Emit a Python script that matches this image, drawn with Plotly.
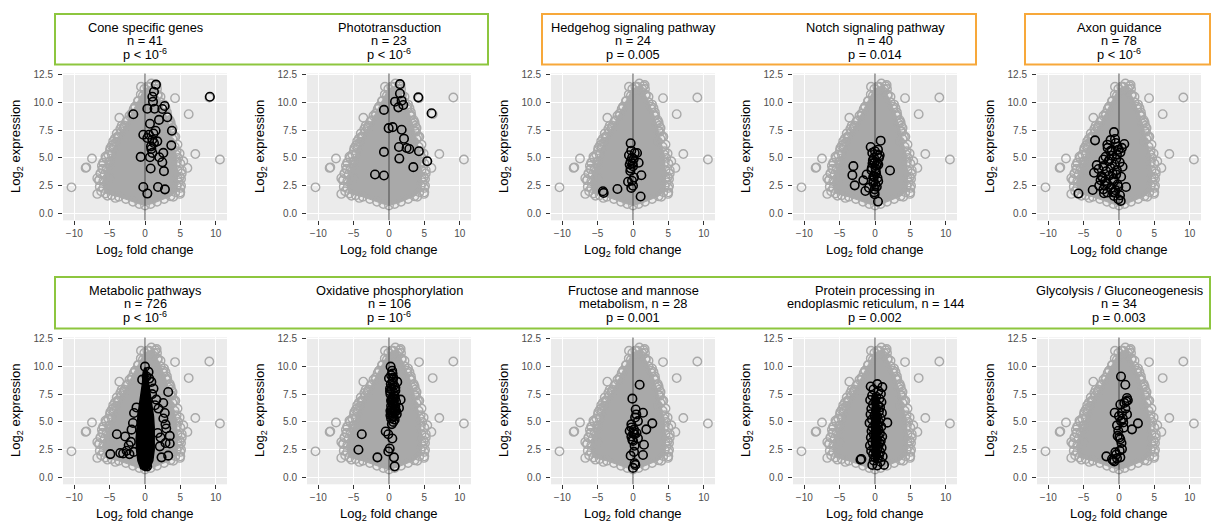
import plotly.graph_objects as go

# ---------------------------------------------------------------------------
# Figure geometry (pixels)
# ---------------------------------------------------------------------------
W, H = 1212, 527
COL_LEFT = [63, 307, 551, 793, 1037]
PANEL_W = 164
ROW_TOP = [70, 336]
PANEL_H = 148
X_RANGE = [-11.6, 11.6]
Y_RANGE = [-0.62, 12.6]

FONT = "Liberation Sans, Arial, Helvetica, sans-serif"
GRAY = "#A9A9A9"
BLACK = "#000000"
GREEN = "#8DC63F"
ORANGE = "#F7A83A"

X_TICKS = [-10, -5, 0, 5, 10]
Y_TICKS = [0.0, 2.5, 5.0, 7.5, 10.0, 12.5]

# ---------------------------------------------------------------------------
# All genes (grey): dense cloud outline and scattered genes around it
# ---------------------------------------------------------------------------
CLOUD_EDGE_X = [-5.6, -5.9, -5.9, -5.7, -5.4, -5.0, -4.7, -4.4, -4.1, -3.7,
                -3.3, -2.9, -2.4, -1.9, -1.4, -1.0, -0.6, -0.1, 0.6, 1.3,
                1.8, 2.2, 2.6, 3.0, 3.3, 3.6, 3.9, 4.2, 4.4, 4.5,
                4.6, 4.6, 4.5, 4.3, 3.6, 2.7, 1.7, 0.8, 0.0, -0.8,
                -1.7, -2.7, -3.7, -4.7]
CLOUD_EDGE_Y = [1.8, 2.3, 2.9, 3.5, 4.1, 4.7, 5.3, 5.9, 6.4, 6.9,
                7.4, 7.9, 8.4, 9.0, 9.6, 10.1, 10.7, 11.2, 11.4, 11.2,
                10.6, 10.0, 9.4, 8.8, 8.1, 7.4, 6.7, 6.0, 5.3, 4.6,
                3.9, 3.2, 2.5, 1.9, 1.55, 1.3, 1.05, 0.85, 0.72, 0.85,
                1.05, 1.3, 1.5, 1.65]

# genes just outside the dense cloud
HALO_X = [-5.9, -6.0, -6.3, -6.5, -6.4, -5.2, -4.9, -4.5, -4.0, -3.5,
          -2.6, -2.2, -1.6, 4.9, 5.0, 5.2, 5.1, 5.0, 4.6, 4.3,
          3.9, 3.5, 3.1, 2.7, 2.2, 1.7, -5.3, -4.2, 4.0, 5.0,
          -5.6, -4.7, -3.9, -3.0, 3.7, 4.8, 2.9, -6.2, -5.0, 0.9]
HALO_Y = [4.56, 4.0, 3.6, 3.0, 2.4, 5.3, 5.9, 6.5, 7.2, 7.6,
          8.3, 8.8, 9.4, 5.4, 4.5, 3.9, 3.1, 2.3, 6.2, 6.9,
          7.7, 8.4, 9.1, 9.8, 10.5, 11.2, 1.6, 1.4, 1.5, 1.9,
          5.1, 6.1, 6.9, 7.7, 7.9, 2.8, 9.5, 2.0, 4.4, 11.7]

OUTER_X = [-10.4, -7.5, -8.4, -8.3, -6.75, -6.75, -6.0, -5.9, -4.95, -4.25,
           -3.87, -3.63, -2.97, -1.9, -0.94, -0.57, 0.33, 1.65, 1.5, 1.8,
           4.25, 9.1, 6.18, 3.16, 3.63, 3.82, 3.54, 4.48, 5.42, 6.0,
           7.12, 10.6, 4.95, 4.95, -4.95, -6.3, -5.5, -4.5, -3.3, 2.6,
           3.4, 4.1, 4.7, 5.2, -1.4, -0.3, 1.1, -6.5, -6.1, 5.1]
OUTER_Y = [2.35, 4.94, 4.1, 4.15, 3.18, 1.76, 4.0, 4.56, 5.7, 6.75,
           6.76, 8.62, 7.74, 8.8, 10.15, 11.4, 11.4, 11.56, 11.45, 10.7,
           10.38, 10.44, 8.94, 8.82, 8.18, 7.35, 6.47, 5.6, 4.7, 4.1,
           5.35, 4.85, 3.3, 1.76, 3.2, 3.6, 5.0, 6.2, 7.9, 9.6,
           8.3, 6.9, 5.0, 3.6, 9.6, 10.6, 11.0, 3.0, 4.3, 2.5]

# ---------------------------------------------------------------------------
# Gene sets (black)
# ---------------------------------------------------------------------------
CONE_X = [1.55, 1.27, 1.04, 1.13, 9.18, -1.65, 0.33, 1.36, 2.78, 2.45,
          3.15, 1.98, 0.70, 3.81, 1.50, -0.24, 0.33, 0.56, 1.04, 1.27,
          1.74, 3.72, 0.85, 2.59, 1.04, 0.70, -0.61, 2.02, 2.45, 0.80,
          2.68, -0.24, 0.33, 1.84, 2.82, 1.20, 0.90]
CONE_Y = [11.60, 10.95, 10.50, 10.06, 10.50, 8.93, 9.43, 9.43, 9.67, 9.40,
          8.66, 8.42, 8.07, 7.44, 7.44, 7.08, 6.79, 7.08, 6.64, 6.34,
          6.49, 6.13, 6.04, 5.45, 5.45, 5.06, 5.09, 5.06, 4.61, 4.05,
          3.81, 2.38, 1.79, 2.38, 2.17, 7.20, 5.80]

PHOTO_X = [1.55, 1.55, 4.14, 0.85, 1.79, 2.02, 1.32, -0.71, 6.02, -0.05,
           0.52, 1.79, 2.12, 1.41, 2.49, 2.87, 4.23, -0.71, 5.41, 1.46,
           3.44, -1.98, -0.71]
PHOTO_Y = [11.64, 10.80, 10.45, 10.06, 10.15, 9.76, 9.55, 9.32, 9.02, 7.68,
           7.77, 7.53, 6.73, 5.98, 5.89, 5.80, 5.60, 5.54, 4.70, 4.94,
           4.17, 3.51, 3.42]

HEDGEHOG_X = [-0.33, -0.24, 0.24, 0.57, -0.57, -0.14, -0.33, 0.80, -0.47, 0.00,
              -0.33, -0.38, 1.18, -0.70, -0.14, 0.00, -0.24, -2.20, -4.25, -4.15,
              1.08, 0.14, 0.10, -0.05]
HEDGEHOG_Y = [6.32, 5.65, 5.44, 5.44, 5.24, 5.00, 4.70, 4.56, 4.41, 4.26,
              4.06, 3.82, 3.44, 2.85, 2.94, 2.50, 2.30, 2.20, 2.00, 1.85,
              1.53, 3.24, 4.90, 4.50]

NOTCH_X = [0.80, -0.61, 0.42, -0.38, 0.66, -0.14, 0.33, -3.06, 0.09, 0.47,
           2.12, -3.20, -1.18, -0.14, -1.65, -0.24, -2.87, -0.85, -0.05, -1.36,
           -0.05, 0.42, 0.00, -0.30, 0.20, -0.45, 0.10, 0.35, -0.20, 0.05,
           0.25, -0.10, 0.55, -0.50, 0.15, -0.35, 0.30, -0.05, 0.45, -0.25]
NOTCH_Y = [6.55, 5.98, 5.74, 5.45, 5.24, 5.00, 4.55, 4.26, 4.05, 4.40,
           3.87, 3.45, 3.51, 3.36, 2.98, 2.77, 2.53, 2.32, 2.17, 2.02,
           1.73, 1.07, 5.60, 4.80, 4.30, 4.10, 3.80, 3.20, 3.00, 2.60,
           2.40, 1.90, 5.00, 3.90, 3.60, 4.50, 5.30, 4.60, 2.90, 3.30]

AXON_X = [-0.71, -3.39, -0.56, -0.47, 0.75, -1.65, -0.09, -1.27, 0.40, -2.21,
          -0.30, -3.15, -2.21, -3.53, -2.45, -1.98, -0.80, -0.20, -3.72, -5.74,
          -2.12, -2.21, -1.65, 0.99, -0.71, 0.14, -0.09, 0.24, -1.00, -1.50,
          -0.40, 0.20, -1.20, -0.60, -1.80, -2.60, -0.90, -0.30, 0.10, -1.40,
          -2.00, -0.70, -1.10, -2.80, -0.50, 0.30, -1.60, -0.20, -2.30, -1.00,
          -0.40, -1.30, -0.80, 0.50, -2.90, -1.70, -0.10, -0.60, -1.90, -1.20]
AXON_Y = [7.32, 6.58, 6.70, 6.34, 6.25, 6.19, 5.74, 5.60, 5.90, 4.85,
          5.30, 4.35, 4.26, 3.66, 3.36, 2.92, 3.10, 2.60, 2.11, 1.79,
          1.82, 2.17, 1.88, 2.38, 1.58, 1.64, 1.28, 1.13, 5.20, 4.70,
          4.90, 5.50, 4.10, 4.40, 3.80, 3.00, 3.60, 3.90, 4.60, 3.40,
          2.50, 2.90, 2.30, 2.50, 2.10, 3.30, 5.90, 6.00, 3.20, 5.70,
          3.50, 4.90, 1.90, 4.20, 4.00, 2.70, 2.40, 1.90, 5.10, 6.60]

# metabolic pathways: solid black core plus genes outside it
METABOLIC_CORE_X = [0.0, 0.35, 0.5, 0.75, 1.0, 1.2, 1.3, 1.35, 1.3, 1.1,
                    0.6, 0.0, -0.6, -1.0, -1.2, -1.25, -1.15, -1.0, -0.8, -0.55,
                    -0.35, -0.25]
METABOLIC_CORE_Y = [9.9, 9.5, 8.5, 7.5, 6.5, 5.5, 4.5, 3.5, 2.5, 1.5,
                    0.8, 0.6, 0.8, 1.5, 2.5, 3.5, 4.5, 5.5, 6.5, 7.5,
                    8.5, 9.5]
METABOLIC_X = [0.0, 0.23, 0.6, 3.28, 2.58, 2.8, 2.6, 2.9, 3.0, -1.55,
               -1.7, 3.5, -3.98, -2.8, -4.9, -3.5, -3.1, -2.6, -2.2, 2.9,
               3.5, 3.28, 2.34, -1.6, 1.9, 2.2, -2.0, 1.6, 1.8, -1.9,
               1.2, 0.9, -0.4, 0.5, 1.0, 1.4, -1.2, 0.3, 2.1, -2.3]
METABOLIC_Y = [9.97, 9.08, 8.9, 7.69, 6.7, 5.8, 5.3, 4.78, 4.4, 5.8,
               4.9, 3.74, 3.89, 3.68, 2.1, 2.2, 2.15, 2.4, 2.1, 3.1,
               3.05, 1.96, 1.81, 2.3, 6.2, 3.6, 3.2, 7.0, 4.0, 4.3,
               8.0, 8.6, 8.8, 9.5, 7.5, 6.5, 6.3, 1.0, 2.8, 2.9]

OXPHOS_X = [0.23, 0.45, 0.0, 1.17, 0.7, 1.64, 1.41, 0.5, -0.47, -0.1,
            0.47, -3.85, -4.32, -1.64, -0.1, 0.1, 0.7, 0.8, 0.3, 0.6,
            0.9, 0.4, 0.7, 0.2, 0.5, 0.8, 1.0, 0.3, 0.6, 0.9,
            0.4, 0.2, 0.7, 1.1, 0.5, 0.3, 0.8, 0.6, 0.4, 1.0,
            0.2, 0.9, 0.5, 0.7, 0.35, 0.15, 0.55, 0.25, 0.85, 0.45,
            0.65, 0.35, 0.75, 0.15, 0.95, 0.5, 0.3, 0.6]
OXPHOS_Y = [9.97, 9.6, 8.93, 8.6, 8.3, 7.0, 6.26, 5.8, 4.13, 3.89,
            3.5, 3.89, 2.49, 1.81, 2.34, 2.6, 1.81, 1.0, 9.2, 9.0,
            8.1, 7.9, 7.6, 7.5, 7.2, 7.3, 6.8, 6.9, 6.6, 6.4,
            6.2, 6.0, 5.9, 5.7, 5.5, 5.3, 5.2, 5.0, 4.8, 6.0,
            5.6, 7.8, 8.5, 6.5, 7.0, 8.0, 8.8, 8.4, 7.1, 6.75,
            5.45, 5.85, 6.15, 7.75, 5.95, 9.35, 6.45, 7.05]

FRUCTOSE_X = [0.94, -0.09, 0.38, 1.41, 0.47, 0.70, 2.73, -0.23, 1.88, -0.47,
              0.14, 0.23, -0.23, 0.70, 0.00, 0.23, 1.55, -0.33, 1.41, 0.23,
              0.33, 0.00, 0.14, -0.20, 0.50, 0.05, 0.30, -0.10]
FRUCTOSE_Y = [8.34, 7.09, 6.11, 5.82, 5.67, 5.07, 4.87, 4.78, 4.33, 4.18,
              4.30, 3.89, 3.68, 3.53, 3.29, 2.85, 2.94, 1.96, 2.02, 1.28,
              1.13, 0.86, 2.30, 4.50, 4.00, 3.95, 5.40, 3.40]

# protein processing in ER: solid black column plus genes around it
PROTEIN_CORE_X = [-0.1, 0.3, 0.55, 0.65, 0.7, 0.7, 0.6, 0.3, -0.1, -0.4,
                  -0.5, -0.5, -0.45, -0.35]
PROTEIN_CORE_Y = [7.6, 7.4, 6.5, 5.5, 4.5, 3.5, 2.2, 1.5, 1.4, 2.2,
                  3.5, 4.5, 5.5, 6.8]
PROTEIN_X = [0.33, -0.61, 1.04, -0.22, 0.48, 0.83, -0.41, 0.18, 0.62, -0.68,
             0.03, 0.91, -0.29, 0.44, 0.71, -0.52, 0.12, 0.55, 0.97, -0.63,
             -0.08, 0.31, 0.79, -0.43, 0.21, 0.58, -0.77, 0.02, 0.39, 0.88,
             -0.33, 0.14, 1.74, 0.51, -0.49, 0.24, 0.69, -0.18, 0.42, 1.02,
             -0.58, 0.06, 0.28, 0.81, -0.37, 0.63, 0.09, -0.71, 0.47, 0.93,
             -0.12, 0.34, -0.54, 0.74, 0.19, -0.27, 0.57, 1.08, 0.01, -0.38,
             0.33, 1.27, 0.78, -0.19, -1.93, -2.05, 0.41]
PROTEIN_Y = [8.40, 8.19, 8.13, 7.92, 7.77, 7.53, 7.38, 7.26, 7.08, 6.97,
             6.88, 6.79, 6.57, 6.46, 6.31, 6.18, 6.07, 5.93, 5.81, 5.69,
             5.58, 5.47, 5.33, 5.21, 5.09, 4.98, 4.91, 4.82, 4.68, 4.57,
             4.49, 4.37, 4.93, 4.29, 4.18, 4.07, 3.96, 3.88, 3.77, 3.68,
             3.59, 3.47, 3.38, 3.27, 3.18, 3.09, 2.98, 2.87, 2.79, 2.68,
             2.58, 2.47, 2.39, 2.28, 2.19, 2.08, 1.97, 1.88, 1.79, 1.13,
             1.07, 1.13, 1.41, 1.52, 1.66, 1.60, 1.69]

GLYCO_X = [0.28, 0.89, 1.13, 1.04, 1.25, 0.75, 0.19, -0.61, 0.42, 1.13,
           0.00, 0.28, 2.68, -0.28, 0.66, 1.84, -0.19, 0.19, 0.05, 0.42,
           -0.52, -1.79, -0.99, -0.28, 0.19, -0.66, 0.55, -0.10, 0.90, 0.35,
           -0.40, 0.10, 0.60, -0.85]
GLYCO_Y = [9.08, 8.34, 7.15, 6.85, 6.95, 6.71, 6.56, 5.82, 5.82, 5.67,
           5.52, 5.07, 4.87, 4.69, 4.48, 4.33, 3.74, 3.44, 3.60, 2.55,
           2.26, 1.90, 1.66, 1.72, 1.81, 1.45, 5.30, 4.20, 6.20, 3.10,
           2.05, 2.40, 4.95, 1.55]

# panel titles (three lines each), highlighted gene sets, optional solid core
PANELS = [
    (["Cone specific genes", "n = 41", "p < 10<sup>-6</sup>"], CONE_X, CONE_Y, None),
    (["Phototransduction", "n = 23", "p < 10<sup>-6</sup>"], PHOTO_X, PHOTO_Y, None),
    (["Hedgehog signaling pathway", "n = 24", "p = 0.005"], HEDGEHOG_X, HEDGEHOG_Y, None),
    (["Notch signaling pathway", "n = 40", "p = 0.014"], NOTCH_X, NOTCH_Y, None),
    (["Axon guidance", "n = 78", "p < 10<sup>-6</sup>"], AXON_X, AXON_Y, None),
    (["Metabolic pathways", "n = 726", "p < 10<sup>-6</sup>"], METABOLIC_X, METABOLIC_Y,
     (METABOLIC_CORE_X, METABOLIC_CORE_Y)),
    (["Oxidative phosphorylation", "n = 106", "p = 10<sup>-6</sup>"], OXPHOS_X, OXPHOS_Y, None),
    (["Fructose and mannose", "metabolism, n = 28", "p = 0.001"], FRUCTOSE_X, FRUCTOSE_Y, None),
    (["Protein processing in", "endoplasmic reticulum, n = 144", "p = 0.002"], PROTEIN_X, PROTEIN_Y,
     (PROTEIN_CORE_X, PROTEIN_CORE_Y)),
    (["Glycolysis / Gluconeogenesis", "n = 34", "p = 0.003"], GLYCO_X, GLYCO_Y, None),
]

# enrichment group frames: (left, right, top, bottom, colour) in pixels
FRAMES = [
    (55, 488, 10, 61, GREEN),
    (542, 976, 10, 61, ORANGE),
    (1025, 1210, 10, 61, ORANGE),
    (55, 1210, 275, 327, GREEN),
]


def px(x):
    return x / W


def py(y):
    return 1 - y / H


fig = go.Figure()
annotations = []
shapes = []
layout_axes = {}

for i, (title_lines, gx, gy, core) in enumerate(PANELS):
    row, col = divmod(i, 5)
    n = i + 1
    xname = "x" if n == 1 else f"x{n}"
    yname = "y" if n == 1 else f"y{n}"
    left = COL_LEFT[col]
    top = ROW_TOP[row]
    cx = left + PANEL_W / 2
    cy = top + PANEL_H / 2

    # dense grey cloud
    fig.add_trace(go.Scatter(
        x=CLOUD_EDGE_X + CLOUD_EDGE_X[:1], y=CLOUD_EDGE_Y + CLOUD_EDGE_Y[:1],
        mode="lines", fill="toself", fillcolor=GRAY,
        line=dict(color=GRAY, width=1), hoverinfo="skip",
        xaxis=xname, yaxis=yname, showlegend=False))
    fig.add_trace(go.Scatter(
        x=CLOUD_EDGE_X + HALO_X + OUTER_X, y=CLOUD_EDGE_Y + HALO_Y + OUTER_Y,
        mode="markers",
        marker=dict(symbol="circle-open", size=8.5, color=GRAY,
                    line=dict(width=1.4, color=GRAY)),
        hoverinfo="skip", xaxis=xname, yaxis=yname, showlegend=False))
    # zero fold-change line
    fig.add_trace(go.Scatter(
        x=[0, 0], y=[Y_RANGE[0] - 1, Y_RANGE[1] + 1], mode="lines",
        line=dict(color="rgba(60,60,60,0.55)", width=1.6), hoverinfo="skip",
        xaxis=xname, yaxis=yname, showlegend=False))
    if core is not None:
        fig.add_trace(go.Scatter(
            x=core[0] + core[0][:1], y=core[1] + core[1][:1],
            mode="lines", fill="toself", fillcolor=BLACK,
            line=dict(color=BLACK, width=1.5), hoverinfo="skip",
            xaxis=xname, yaxis=yname, showlegend=False))
    # highlighted gene set
    fig.add_trace(go.Scatter(
        x=gx, y=gy, mode="markers",
        marker=dict(symbol="circle-open", size=8.5, color=BLACK,
                    line=dict(width=1.6, color=BLACK)),
        xaxis=xname, yaxis=yname, showlegend=False))

    axis_common = dict(
        showgrid=True, gridcolor="white", gridwidth=1.3, zeroline=False,
        showline=False, ticks="outside", ticklen=4, tickwidth=1.4,
        tickcolor="#333333", tickfont=dict(family=FONT, size=10, color="#4D4D4D"),
        fixedrange=True,
    )
    layout_axes["xaxis" if n == 1 else f"xaxis{n}"] = dict(
        axis_common, domain=[px(left), px(left + PANEL_W)], range=X_RANGE,
        tickvals=X_TICKS, anchor=yname)
    layout_axes["yaxis" if n == 1 else f"yaxis{n}"] = dict(
        axis_common, domain=[py(top + PANEL_H), py(top)], range=Y_RANGE,
        tickvals=Y_TICKS, tickformat=".1f", anchor=xname, ticklabelstandoff=3)

    # panel titles
    title_top = 23.5 if row == 0 else 288.5
    for k, line in enumerate(title_lines):
        annotations.append(dict(
            text=line, x=px(cx), y=py(title_top + k * 13.5), xref="paper",
            yref="paper", xanchor="center", yanchor="middle", showarrow=False,
            font=dict(family=FONT, size=12.8, color="black")))
    # axis titles
    annotations.append(dict(
        text="Log<sub>2</sub> fold change", x=px(cx), y=py(top + PANEL_H + 30),
        xref="paper", yref="paper", xanchor="center", yanchor="middle",
        showarrow=False, font=dict(family=FONT, size=13, color="black")))
    annotations.append(dict(
        text="Log<sub>2</sub> expression", x=px(left - 46), y=py(cy),
        xref="paper", yref="paper", xanchor="center", yanchor="middle",
        textangle=-90, showarrow=False,
        font=dict(family=FONT, size=13, color="black")))

for x0, x1, y0, y1, colour in FRAMES:
    shapes.append(dict(type="rect", xref="paper", yref="paper",
                       x0=px(x0), x1=px(x1), y0=py(y1), y1=py(y0),
                       line=dict(color=colour, width=2), fillcolor="rgba(0,0,0,0)"))

fig.update_layout(
    width=W, height=H, margin=dict(l=0, r=0, t=0, b=0),
    paper_bgcolor="white", plot_bgcolor="#EBEBEB",
    annotations=annotations, shapes=shapes, showlegend=False,
    **layout_axes,
)

fig.write_html("out.html", config={"displayModeBar": False})
